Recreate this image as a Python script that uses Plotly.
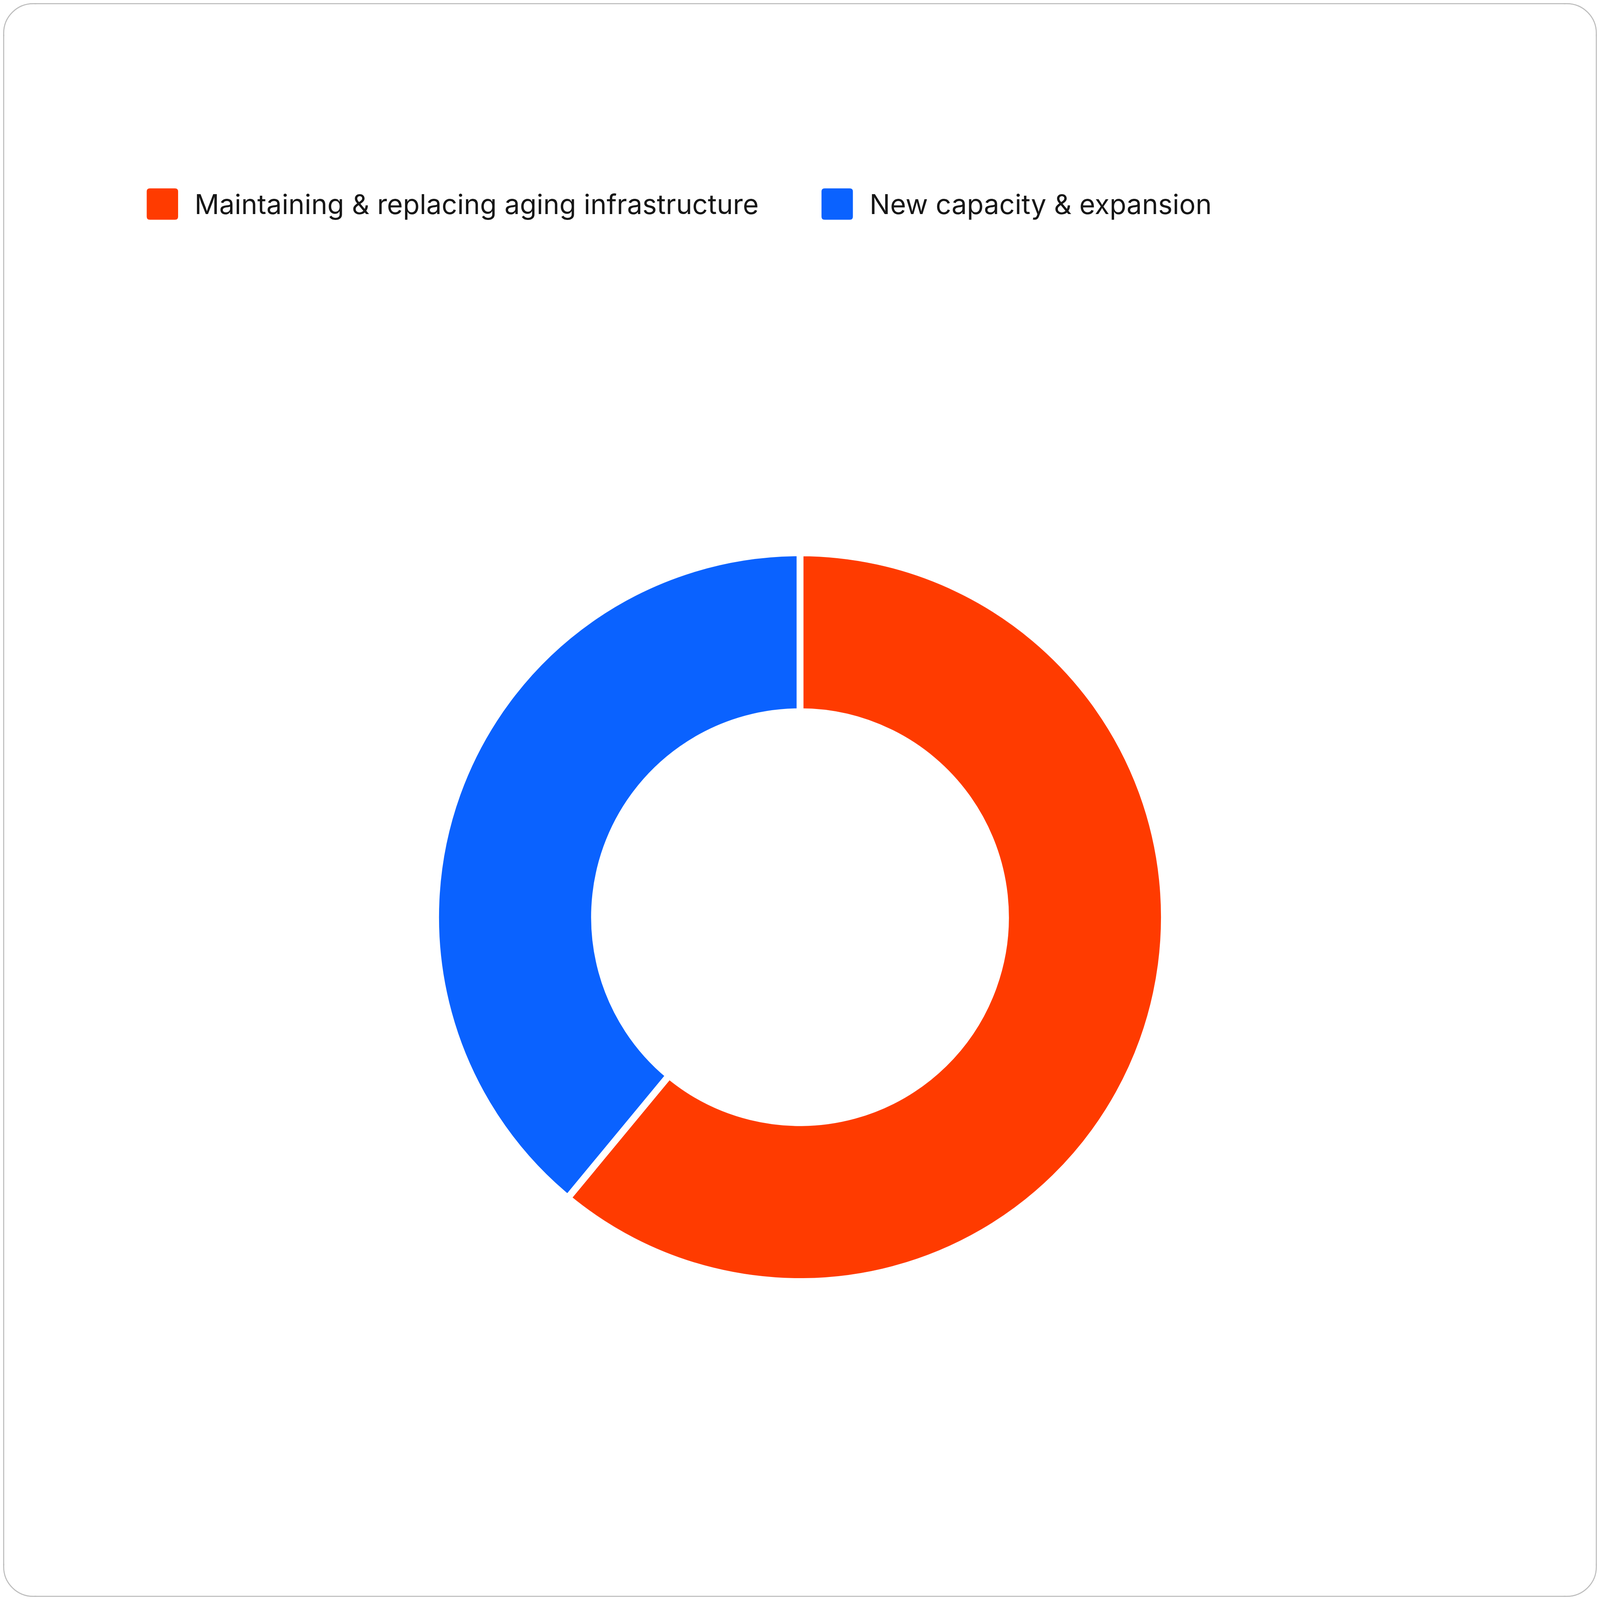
import plotly.graph_objects as go

# 데이터
labels = ["Maintaining & replacing aging infrastructure", "New capacity & expansion"]
values = [61, 39]
colors = ["#FF3B00", "#0A62FF"]

# 기준 크기 (참조 이미지 픽셀)
W, H = 6108, 4328
VW = VH = 4090          # 브라우저 화면 크기 (CSS px, 측정값)
S = VW / W              # 참조 픽셀 -> CSS 픽셀

# 도넛 위치 (참조 픽셀, 위쪽 기준)
cx, cy = 3054, 2481
gap = 26
r_outer = 1378 + gap / 2
r_inner = 797.5 - gap / 2


def fx(x):
    # 참조 x 픽셀 -> paper 좌표 (body 여백 8px 보정)
    return (x / W * VW - 8) / (VW - 16)


def fy(y):
    return 1 - (y / H * VH - 8) / (VH - 16)


def rounded_box(a, r):
    # 가운데 기준 둥근 사각형 (pixel 좌표)
    return (f"M{-a + r},{-a} L{a - r},{-a} Q{a},{-a} {a},{-a + r} "
            f"L{a},{a - r} Q{a},{a} {a - r},{a} L{-a + r},{a} "
            f"Q{-a},{a} {-a},{a - r} L{-a},{-a + r} Q{-a},{-a} {-a + r},{-a} Z")


fig = go.Figure()

fig.add_trace(go.Pie(
    labels=labels,
    values=values,
    marker=dict(colors=colors, line=dict(color="white", width=gap * S)),
    hole=r_inner / r_outer,
    sort=False,
    direction="clockwise",
    rotation=0,
    textinfo="none",
    showlegend=False,
    domain=dict(x=[fx(cx - r_outer), fx(cx + r_outer)],
                y=[fy(cy + r_outer), fy(cy - r_outer)]),
))

# 범례 (직접 그림)
legend_x = [560, 3136]
swatch = 120
legend_cy = 552
shapes = []
annotations = []
for lx, name, col in zip(legend_x, labels, colors):
    shapes.append(dict(type="path", xref="paper", yref="paper",
                       xsizemode="pixel", ysizemode="pixel",
                       xanchor=fx(lx + swatch / 2), yanchor=fy(legend_cy),
                       path=rounded_box(swatch / 2 * S, 8),
                       fillcolor=col, line=dict(width=0)))
    annotations.append(dict(x=fx(lx + 180), y=fy(legend_cy), xref="paper", yref="paper",
                            xanchor="left", yanchor="middle", showarrow=False, text=name,
                            font=dict(family="Inter", size=70, color="#161616")))

# 바깥 테두리 (직선 + 둥근 모서리)
border = dict(color="#BDBDBD", width=4 * S)
b = 1.4
R = 115 * S
shapes += [
    dict(type="line", xref="paper", yref="paper", x0=0, x1=1, ysizemode="pixel", yanchor=1, y0=-b, y1=-b, line=border),
    dict(type="line", xref="paper", yref="paper", x0=0, x1=1, ysizemode="pixel", yanchor=0, y0=b, y1=b, line=border),
    dict(type="line", xref="paper", yref="paper", y0=0, y1=1, xsizemode="pixel", xanchor=0, x0=b, x1=b, line=border),
    dict(type="line", xref="paper", yref="paper", y0=0, y1=1, xsizemode="pixel", xanchor=1, x0=-b, x1=-b, line=border),
]
k = 0.5523 * (R - b)
ext = R + 8
for ax, ay in [(0, 1), (1, 1), (1, 0), (0, 0)]:
    sx = 1 if ax == 0 else -1
    sy = -1 if ay == 1 else 1
    shapes.append(dict(type="rect", xref="paper", yref="paper", xsizemode="pixel", ysizemode="pixel",
                       xanchor=ax, yanchor=ay, x0=-(R + 3), x1=R + 3, y0=-(R + 3), y1=R + 3,
                       fillcolor="white", line=dict(width=0)))
    arc = (f"M{sx * b},{sy * ext} L{sx * b},{sy * R} "
           f"C{sx * b},{sy * (R - k)} {sx * (R - k)},{sy * b} {sx * R},{sy * b} "
           f"L{sx * ext},{sy * b}")
    shapes.append(dict(type="path", xref="paper", yref="paper", xsizemode="pixel", ysizemode="pixel",
                       xanchor=ax, yanchor=ay, path=arc, line=border))

fig.update_layout(
    margin=dict(l=0, r=0, t=0, b=0),
    paper_bgcolor="white",
    plot_bgcolor="white",
    shapes=shapes,
    annotations=annotations,
    font=dict(family="Inter"),
)

fig.write_html("out.html")
